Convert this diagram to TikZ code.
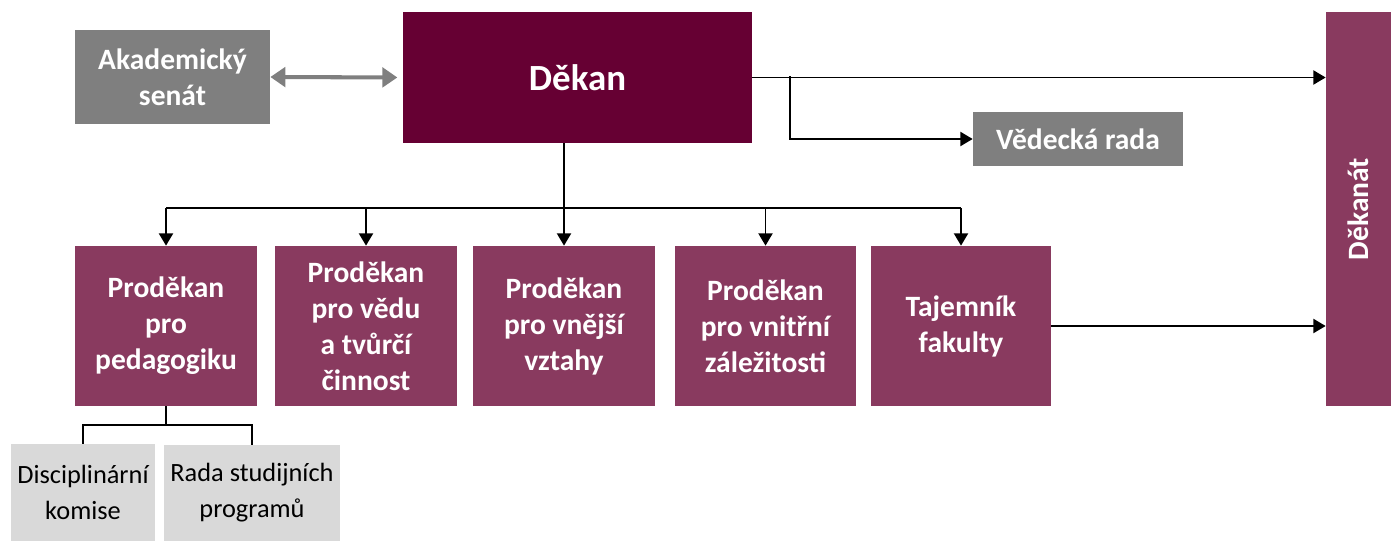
\documentclass[tikz,border=0pt]{standalone}
\usepackage{fontspec}
\setmainfont{Carlito}
\usetikzlibrary{arrows.meta,calc}
\definecolor{dekancol}{HTML}{660033}
\definecolor{prodcol}{HTML}{893A5F}
\definecolor{grey1}{HTML}{7F7F7F}
\definecolor{grey2}{HTML}{D9D9D9}
\begin{document}
\begin{tikzpicture}[x=0.02cm,y=-0.02cm,
  box/.style={fill=prodcol,text=white,font=\fontsize{16.8}{20.5}\selectfont\bfseries,align=center,inner sep=0pt},
  greybox/.style={box,fill=grey1},
  lightbox/.style={fill=grey2,text=black,font=\fontsize{15}{20.5}\selectfont,align=center,inner sep=0pt},
  conn/.style={line width=1.1pt},
  arr/.style={conn,-{Triangle[length=7pt,width=8pt]}}]
\useasboundingbox (0,0) rectangle (1391,541);
\node[box,fill=dekancol,minimum width=349*0.02cm,minimum height=131*0.02cm,font=\fontsize{21}{25}\selectfont\bfseries] (dekan) at (577.5,77.5) {Děkan};
\node[greybox,minimum width=195*0.02cm,minimum height=94*0.02cm] (senat) at (172.5,77) {Akademický\\senát};
\node[greybox,minimum width=210*0.02cm,minimum height=54*0.02cm] (veda) at (1078,139) {Vědecká rada};
\node[box,rotate=90,minimum width=394*0.02cm,minimum height=65*0.02cm] (dekanat) at (1358.5,209) {Děkanát};
\node[box,minimum width=182*0.02cm,minimum height=160*0.02cm] (p1) at (166,326) {Proděkan\\pro\\pedagogiku};
\node[box,minimum width=182*0.02cm,minimum height=160*0.02cm] (p2) at (366,326) {Proděkan\\pro vědu\\a tvůrčí\\činnost};
\node[box,minimum width=182*0.02cm,minimum height=160*0.02cm] (p3) at (564,326) {Proděkan\\pro vnější\\vztahy};
\node[box,minimum width=181*0.02cm,minimum height=160*0.02cm] (p4) at (765.5,326) {Proděkan\\pro vnitřní\\záležitosti};
\node[box,minimum width=180*0.02cm,minimum height=160*0.02cm] (taj) at (961,326) {Tajemník\\fakulty};
\node[lightbox,minimum width=144*0.02cm,minimum height=97*0.02cm] (disc) at (83,492.5) {Disciplinární\\komise};
\node[lightbox,minimum width=176*0.02cm,minimum height=96*0.02cm] (rada) at (252,493) {Rada studijních\\programů};
\coordinate (bus) at (0,208);
\coordinate (br) at (790,76);
\coordinate (subbus) at (0,425);
\draw[grey1,line width=2.3pt,{Triangle[length=8.5pt,width=11pt]}-{Triangle[length=8.5pt,width=11pt]},shorten >=3pt] (senat.east) -- (dekan.west);
\draw[arr] (dekan.east) -- (dekan.east -| dekanat.north);
\draw[arr] (br) |- (veda.west);
\draw[arr] (taj.east) -- (taj.east -| dekanat.north);
\draw[arr] (dekan.south -| p3.north) -- (p3.north);
\draw[conn] (bus -| p1.north) -- (bus -| taj.north);
\foreach \p in {p1,p2,p4,taj}
  \draw[arr] (bus -| \p.north) -- (\p.north);
\draw[conn] (p1.south) -- (subbus -| p1.south);
\draw[conn] (disc.north) |- (subbus -| rada.north) -- (rada.north);
\end{tikzpicture}
\end{document}
